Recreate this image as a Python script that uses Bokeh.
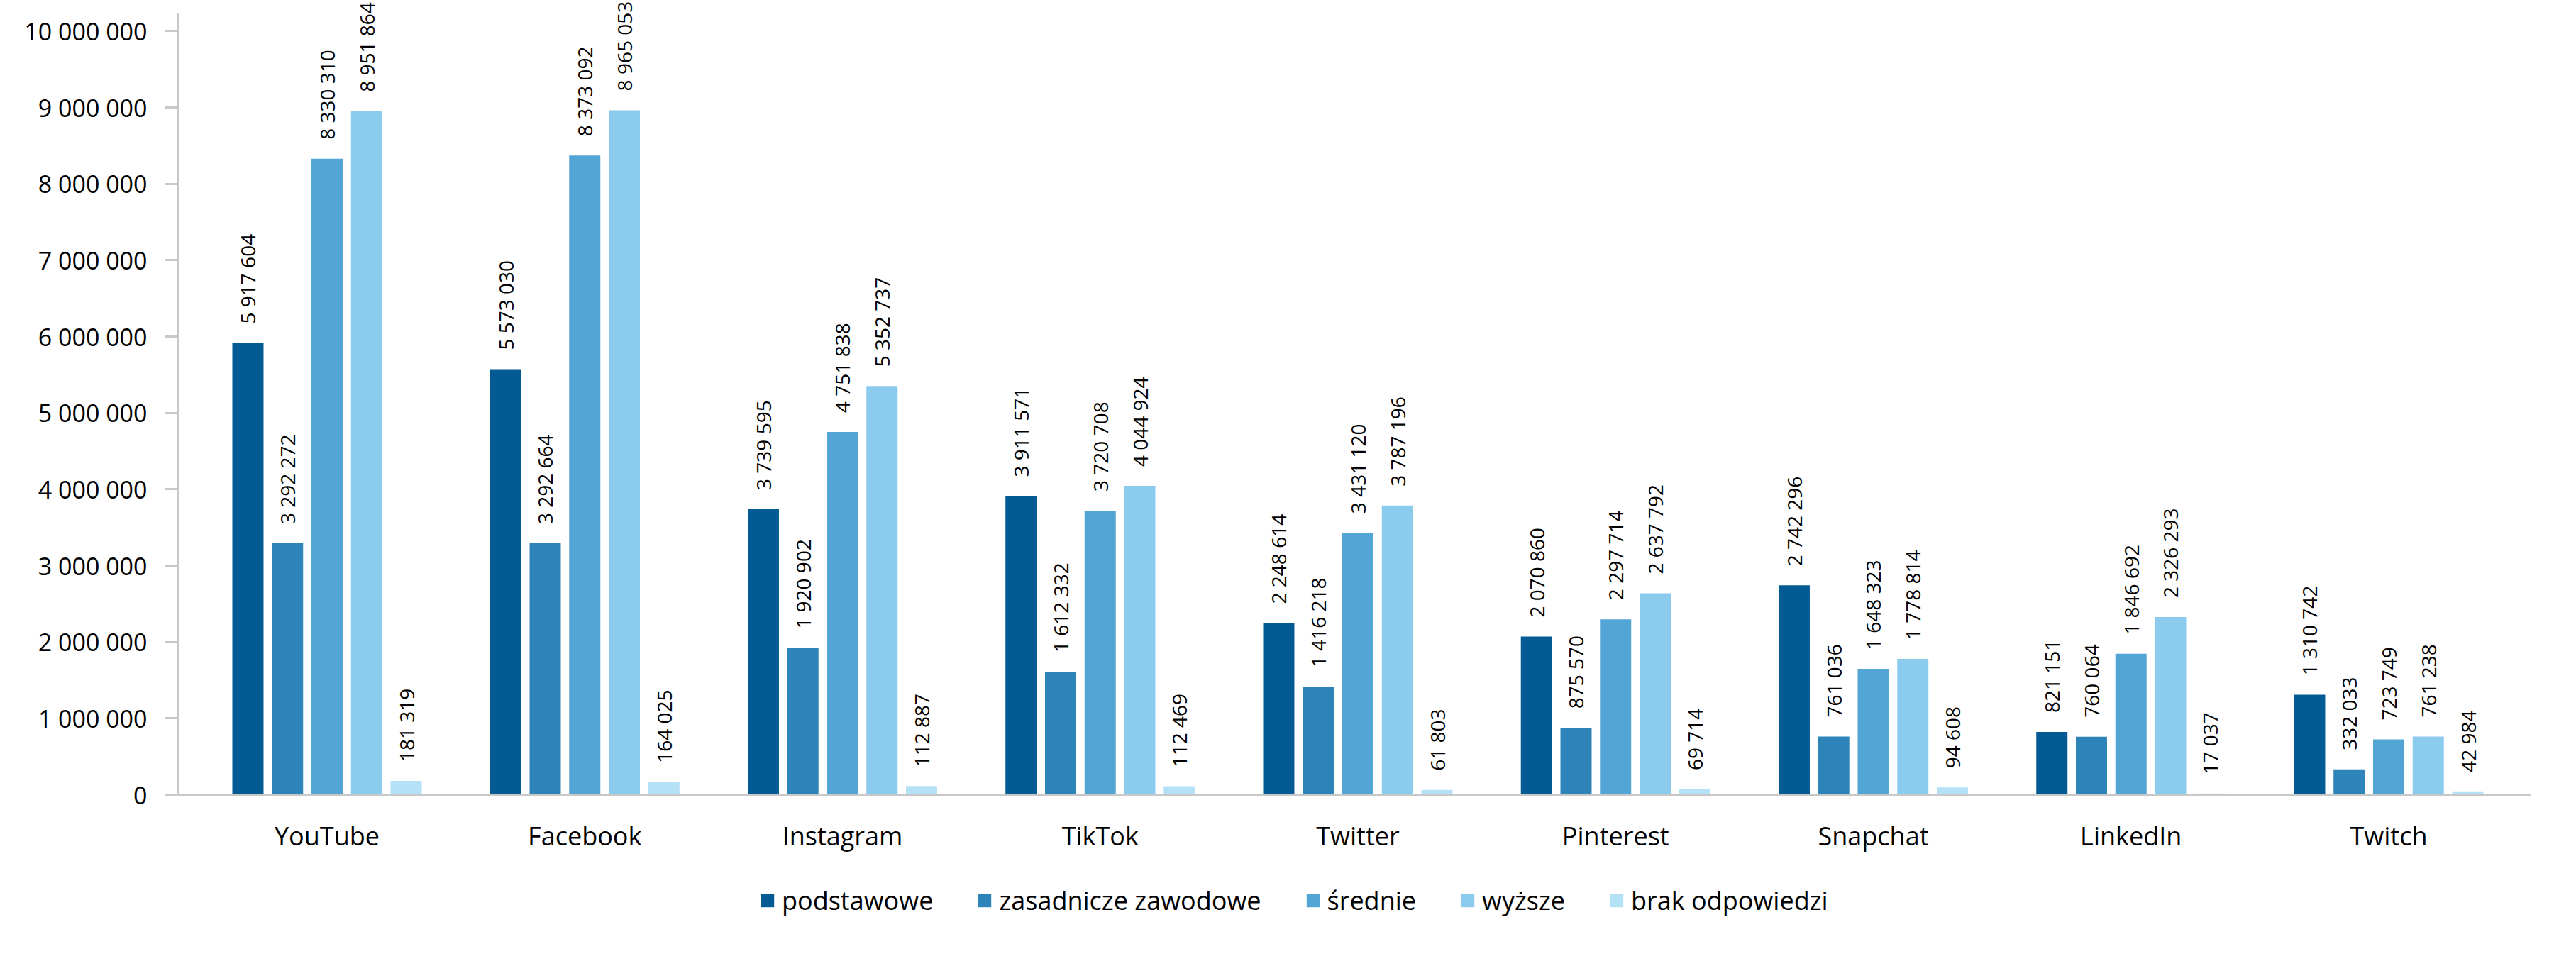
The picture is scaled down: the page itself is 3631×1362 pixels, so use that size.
import math
from bokeh.plotting import figure
from bokeh.layouts import column
from bokeh.models import (ColumnDataSource, Range1d, FixedTicker, Legend, LegendItem)
from bokeh.transform import dodge
from bokeh.core.properties import value
from bokeh.embed import file_html
from bokeh.resources import INLINE

# ---- data ----
platforms = ["YouTube", "Facebook", "Instagram", "TikTok", "Twitter",
             "Pinterest", "Snapchat", "LinkedIn", "Twitch"]
series_names = ["podstawowe", "zasadnicze zawodowe", "średnie", "wyższe", "brak odpowiedzi"]
podstawowe = [5917604, 5573030, 3739595, 3911571, 2248614, 2070860, 2742296, 821151, 1310742]
zasadnicze_zawodowe = [3292272, 3292664, 1920902, 1612332, 1416218, 875570, 761036, 760064, 332033]
srednie = [8330310, 8373092, 4751838, 3720708, 3431120, 2297714, 1648323, 1846692, 723749]
wyzsze = [8951864, 8965053, 5352737, 4044924, 3787196, 2637792, 1778814, 2326293, 761238]
brak_odpowiedzi = [181319, 164025, 112887, 112469, 61803, 69714, 94608, 17037, 42984]
y_ticks = [0, 1000000, 2000000, 3000000, 4000000, 5000000, 6000000, 7000000, 8000000, 9000000, 10000000]

series_values = [podstawowe, zasadnicze_zawodowe, srednie, wyzsze, brak_odpowiedzi]
colors = ["#045B94", "#2E83B9", "#53A5D6", "#8BCCEE", "#B4E1F5"]


def fmt(v):
    return f"{v:,}".replace(",", " ")


FONT = "Open Sans"
W = 3615
H_LEG = 110
H_MAIN = 1346 - H_LEG

p = figure(width=W, height=H_MAIN, output_backend="svg", toolbar_location=None,
           x_range=Range1d(-0.5795, 8.552), y_range=Range1d(0, 10404000),
           min_border_left=250, min_border_right=48, min_border_top=0,
           min_border_bottom=H_MAIN - 1120)
p.xgrid.visible = False
p.ygrid.visible = False
p.outline_line_color = None
p.background_fill_color = "white"
p.border_fill_color = "white"

data = {"x": list(range(len(platforms)))}
for k, vals in enumerate(series_values):
    data[f"v{k}"] = vals
    data[f"l{k}"] = [fmt(v) for v in vals]
src = ColumnDataSource(data)

# legend figure: same series as hidden renderers, only their legend swatches are shown
p2 = figure(width=W, height=H_LEG, output_backend="svg", toolbar_location=None,
            x_range=Range1d(-0.5795, 8.552), y_range=Range1d(0, 10404000),
            x_axis_location=None, y_axis_location=None,
            min_border_left=0, min_border_right=0, min_border_top=0, min_border_bottom=0)
p2.xgrid.visible = False
p2.ygrid.visible = False
p2.outline_line_color = None
p2.background_fill_color = "white"
p2.border_fill_color = "white"

step = 0.1535
bw = 0.1211
swatches = []
for k in range(5):
    off = (k - 2) * step
    p.vbar(x=dodge("x", off), top=f"v{k}", bottom=0, width=bw, source=src,
           fill_color=colors[k], line_color=None)
    p.text(x=dodge("x", off), y=f"v{k}", text=f"l{k}", source=src,
           angle=math.pi / 2, text_align="left", text_baseline="middle",
           y_offset=-27, text_font=value(FONT), text_font_size="28px",
           text_color="#000000")
    r2 = p2.vbar(x=dodge("x", off), top=f"v{k}", bottom=0, width=bw, source=src,
                 fill_color=colors[k], line_color=None)
    r2.visible = False
    swatches.append(r2)

# y axis
ya = p.yaxis[0]
ya.ticker = FixedTicker(ticks=y_ticks)
ya.major_label_overrides = {t: fmt(t) for t in y_ticks}
ya.bounds = (0, 10237000)
ya.axis_line_color = "#C8C8C8"
ya.axis_line_width = 3
ya.major_tick_line_color = "#C8C8C8"
ya.major_tick_line_width = 3
ya.major_tick_out = 18
ya.major_tick_in = 0
ya.minor_tick_line_color = None
ya.major_label_standoff = 25
ya.major_label_text_font = FONT
ya.major_label_text_font_size = "34px"
ya.major_label_text_color = "#000000"

# x axis
xa = p.xaxis[0]
xa.ticker = FixedTicker(ticks=list(range(len(platforms))))
xa.major_label_overrides = {i: name for i, name in enumerate(platforms)}
xa.axis_line_color = "#C8C8C8"
xa.axis_line_width = 3
xa.major_tick_line_color = None
xa.major_tick_out = 0
xa.major_tick_in = 0
xa.minor_tick_line_color = None
xa.major_label_standoff = 33
xa.major_label_text_font = FONT
xa.major_label_text_font_size = "36px"
xa.major_label_text_color = "#000000"

legend = Legend(items=[LegendItem(label=series_names[k], renderers=[swatches[k]], index=0) for k in range(5)],
                orientation="horizontal", location=(820, H_LEG - 58),
                glyph_width=23, glyph_height=23, label_height=23, label_standoff=9, spacing=61,
                padding=0, margin=0, border_line_color=None, background_fill_alpha=0,
                label_text_font=FONT, label_text_font_size="36px", label_text_color="#000000")
p2.add_layout(legend)

layout = column(p, p2, spacing=0)
open("out.html", "w").write(file_html(layout, INLINE))
